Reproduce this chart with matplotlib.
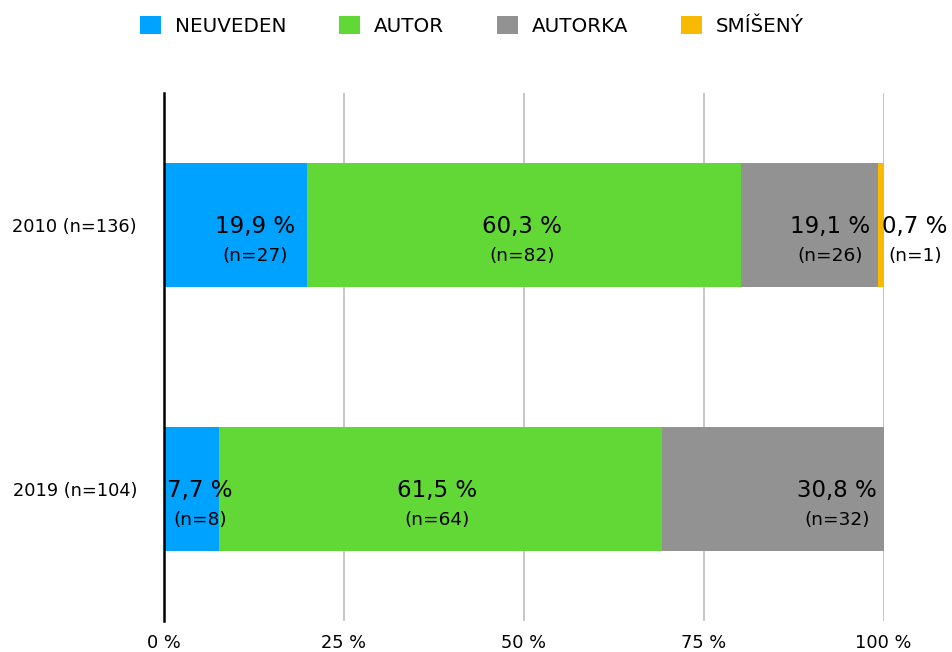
import numpy as np
import matplotlib.pyplot as plt

plt.rcParams['font.family'] = ['DejaVu Sans']

# data
years = ['2010 (n=136)', '2019 (n=104)']
series = ['NEUVEDEN', 'AUTOR', 'AUTORKA', 'SMÍŠENÝ']
neuveden = [19.9, 7.7]
autor = [60.3, 61.5]
autorka = [19.1, 30.8]
smiseny = [0.7, 0.0]
n_neuveden = [27, 8]
n_autor = [82, 64]
n_autorka = [26, 32]
n_smiseny = [1, 0]

colors = ['#00A2FF', '#61D836', '#929292', '#F8BA00']

# where the value labels sit (percent of the axis), per year
label_x = [
    [12.7, 49.8, 92.6, 104.4],
    [5.1, 38.0, 93.5, None],
]

fig = plt.figure(figsize=(9.52, 6.52), dpi=100)
ax = fig.add_axes([163.5 / 952, 1 - 621 / 652, 720 / 952, 528 / 652])

values = [neuveden, autor, autorka, smiseny]
counts = [n_neuveden, n_autor, n_autorka, n_smiseny]
y = np.arange(len(years))
left = np.zeros(len(years))
handles = []
for vals, col, name in zip(values, colors, series):
    b = ax.barh(y, vals, left=left, height=0.473, color=col, label=name, zorder=3)
    handles.append(b)
    left += np.array(vals)

for i in range(len(years)):
    for j in range(len(series)):
        v = values[j][i]
        if v <= 0 or label_x[i][j] is None:
            continue
        txt = f'{v:.1f} %'.replace('.', ',')
        ax.text(label_x[i][j], i + 0.005, txt, ha='center', va='center',
                fontsize=16.5, color='black', zorder=5, clip_on=False)
        ax.text(label_x[i][j], i + 0.118, f'(n={counts[j][i]})', ha='center', va='center',
                fontsize=13.3, color='black', zorder=5, clip_on=False)

ax.set_xlim(0, 100)
ax.set_ylim(1.5, -0.5)
ax.set_xticks([0, 25, 50, 75, 100])
ax.set_xticklabels(['0 %', '25 %', '50 %', '75 %', '100 %'], fontsize=12.8)
ax.set_yticks(y)
ax.set_yticklabels(years, fontsize=12.8)
ax.tick_params(length=0)
ax.tick_params(axis='x', pad=9)
ax.tick_params(axis='y', pad=19)
ax.grid(axis='x', color='#BDBDBD', linewidth=1.2, zorder=0)
for s in ['top', 'right', 'bottom']:
    ax.spines[s].set_visible(False)
ax.spines['left'].set_color('black')
ax.spines['left'].set_linewidth(1.8)
ax.spines['left'].set_zorder(4)

fig.legend(handles=handles, loc='center', bbox_to_anchor=(472 / 952, 1 - 26 / 652),
           ncol=4, frameon=False, fontsize=14.3, handlelength=1.05, handleheight=1.0,
           handletextpad=0.7, columnspacing=2.66)

fig.savefig('out.png', dpi=100)
